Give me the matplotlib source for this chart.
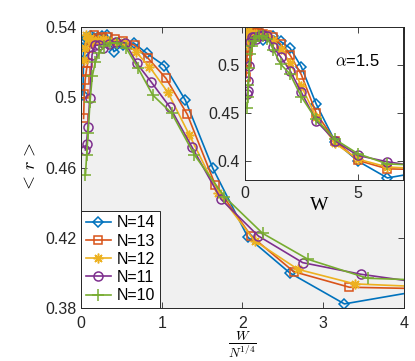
import numpy as np
import matplotlib
matplotlib.use("Agg")
import matplotlib.pyplot as plt

plt.rcParams["font.family"] = ["Liberation Sans", "DejaVu Sans"]
plt.rcParams["mathtext.fontset"] = "cm"

# system sizes and disorder strengths W, mean gap ratio <r>
N_values = [14, 13, 12, 11, 10]

W14 = [0.05, 0.063, 0.079, 0.1, 0.126, 0.158, 0.2, 0.25, 0.316, 0.4, 0.5, 0.63,
       0.79, 1.0, 1.26, 1.58, 2.0, 2.5, 3.16, 4.0, 5.0, 6.31, 7.94]
r14 = [0.5013, 0.525, 0.531, 0.532, 0.5336, 0.534, 0.5345, 0.535, 0.534, 0.5345,
       0.535, 0.5355, 0.526, 0.5297, 0.531, 0.525, 0.518, 0.4984, 0.4595, 0.4202,
       0.400, 0.3823, 0.389]

W13 = [0.063, 0.079, 0.1, 0.126, 0.158, 0.2, 0.25, 0.316, 0.4, 0.5, 0.63, 0.79,
       1.0, 1.26, 1.58, 2.0, 2.5, 3.16, 4.0, 5.0, 6.31, 7.94]
r13 = [0.488, 0.502, 0.510, 0.515, 0.5193, 0.528, 0.532, 0.5354, 0.534, 0.5343,
       0.5341, 0.533, 0.532, 0.5297, 0.5222, 0.5108, 0.4903, 0.450, 0.421, 0.4007,
       0.3918, 0.391]

W12 = [0.079, 0.1, 0.126, 0.158, 0.2, 0.25, 0.316, 0.4, 0.5, 0.63, 0.79, 1.0,
       1.26, 1.58, 2.0, 2.5, 3.16, 4.0, 5.0, 6.31, 7.94]
r12 = [0.5214, 0.528, 0.5356, 0.533, 0.5335, 0.532, 0.532, 0.5326, 0.533, 0.532,
       0.5316, 0.5316, 0.526, 0.5174, 0.5029, 0.4785, 0.4456, 0.4183, 0.402,
       0.3937, 0.392]

W11 = [0.1, 0.126, 0.158, 0.2, 0.25, 0.316, 0.4, 0.5, 0.63, 0.79, 1.0, 1.26,
       1.58, 2.0, 2.5, 3.16, 4.0, 5.0, 6.31, 7.94]
r11 = [0.4700, 0.4735, 0.4832, 0.4994, 0.5241, 0.5297, 0.5297, 0.5279, 0.5305,
       0.5316, 0.531, 0.5193, 0.5089, 0.4946, 0.4718, 0.4419, 0.421, 0.4058,
       0.3992, 0.3934]

W10 = [0.1, 0.126, 0.158, 0.2, 0.25, 0.316, 0.4, 0.5, 0.63, 0.79, 1.0, 1.26,
       1.58, 2.0, 2.5, 3.16, 4.0, 5.0, 6.31, 7.94]
r10 = [0.4557, 0.4671, 0.4795, 0.4975, 0.512, 0.520, 0.525, 0.529, 0.5307, 0.531,
       0.5279, 0.5165, 0.5013, 0.4909, 0.4671, 0.4434, 0.4225, 0.4077, 0.3969,
       0.3955]

W_all = [W14, W13, W12, W11, W10]
r_all = [r14, r13, r12, r11, r10]

colors = ["#0072BD", "#D95319", "#EDB120", "#7E2F8E", "#77AC30"]
markers = ["D", "s", (8, 2, 0), "o", "+"]
sizes = [5, 5.5, 7, 6.5, 8]

axis_color = "#262626"

fig = plt.figure(figsize=(4.15, 3.61), dpi=100)

# main panel: scaled disorder
ax = fig.add_axes([0.195, 0.147, 0.7785, 0.778])
ax.set_facecolor("#f0f0f0")

for N, W, r, c, m, s in zip(N_values, W_all, r_all, colors, markers, sizes):
    x = np.array(W) / N ** 0.25
    ax.plot(x, r, color=c, marker=m, ms=s, mfc="none", mew=1.1, lw=1.2,
            label=f"N={N}")

ax.set_xlim(0, 4)
ax.set_ylim(0.38, 0.54)
ax.set_xticks([0, 1, 2, 3, 4])
ax.set_yticks([0.38, 0.42, 0.46, 0.5, 0.54])
ax.set_yticklabels(["0.38", "0.42", "0.46", "0.5", "0.54"])
ax.tick_params(axis="both", direction="in", top=True, right=True, length=4,
               width=0.6, labelsize=11.5, colors=axis_color)
ax.tick_params(axis="x", pad=6)
ax.tick_params(axis="y", pad=3)
for sp in ax.spines.values():
    sp.set_color(axis_color)
    sp.set_linewidth(0.7)

ax.set_xlabel(r"$\frac{W}{N^{1/4}}$", fontsize=13.5)
ax.xaxis.set_label_coords(0.5, -0.078)
ax.xaxis.label.set_va("top")
ax.set_ylabel(r"$<\, r\, >$", fontsize=13)
ax.yaxis.set_label_coords(-0.13, 0.5)

leg = ax.legend(loc="lower left", borderaxespad=0, fancybox=False,
                edgecolor=axis_color, framealpha=1, fontsize=11.5,
                handlelength=1.6, handletextpad=0.35, labelspacing=0.2,
                borderpad=0.3)
leg.get_frame().set_linewidth(0.7)

# inset: raw disorder
axin = fig.add_axes([0.590, 0.501, 0.381, 0.424])
axin.set_facecolor("white")
for N, W, r, c, m, s in zip(N_values, W_all, r_all, colors, markers, sizes):
    axin.plot(W, r, color=c, marker=m, ms=s, mfc="none", mew=1.1, lw=1.2)

axin.set_xlim(0, 7)
axin.set_ylim(0.38, 0.54)
axin.set_xticks([0, 5])
axin.set_yticks([0.4, 0.45, 0.5])
axin.set_yticklabels(["0.4", "0.45", "0.5"])
axin.tick_params(axis="both", direction="in", top=True, right=True, length=4,
                 width=0.6, labelsize=11.5, colors=axis_color)
axin.tick_params(axis="x", pad=4)
axin.tick_params(axis="y", pad=3.5)
for sp in axin.spines.values():
    sp.set_color(axis_color)
    sp.set_linewidth(0.7)

axin.set_xlabel("W", fontsize=14, family=["Liberation Serif", "DejaVu Serif"])
axin.xaxis.set_label_coords(0.47, -0.11)
axin.xaxis.label.set_va("top")
axin.text(0.57, 0.745, r"$\alpha$=1.5", transform=axin.transAxes, fontsize=12,
          color="black")

fig.savefig("out.png", dpi=100)
